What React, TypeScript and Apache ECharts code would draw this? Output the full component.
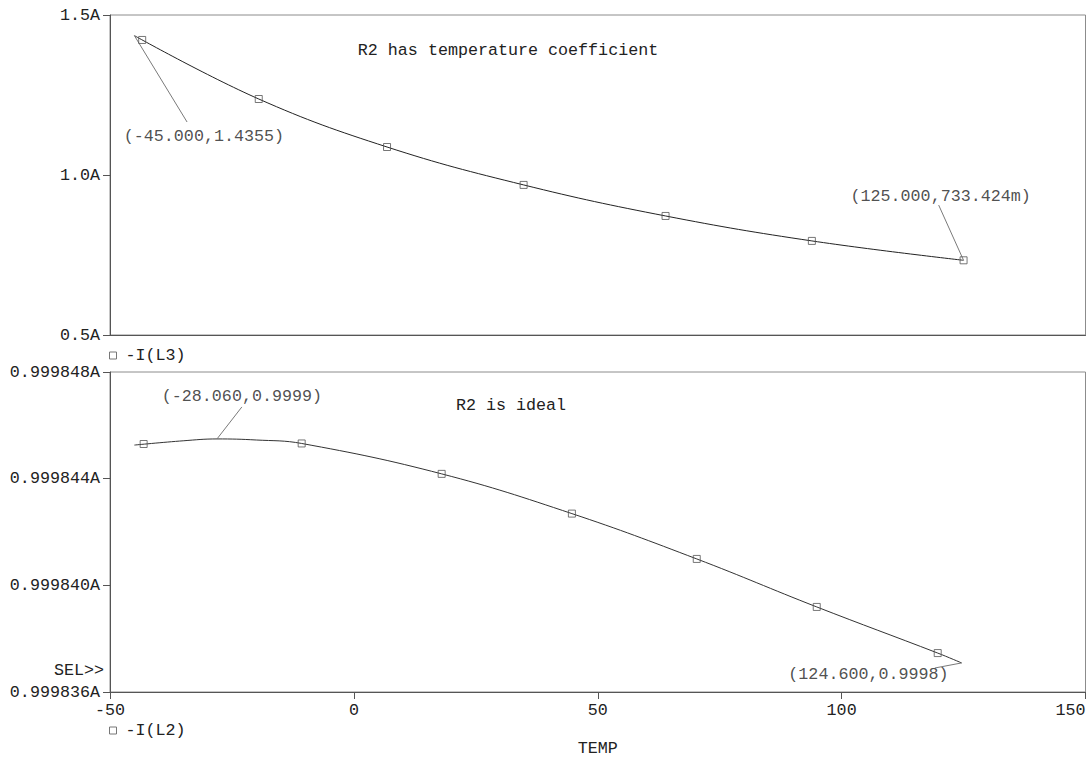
import React, { useEffect, useRef } from "react";
import * as echarts from "echarts";

// ---------- data ----------
const tempTicks = [-50, 0, 50, 100, 150];
const topAmpTicks = [0.5, 1.0, 1.5];
const bottomAmpTicks = [0.999836, 0.99984, 0.999844, 0.999848];

// -I(L3): R2 has temperature coefficient
const topCurveTemp = [-45, -19.5, 6.8, 34.8, 63.9, 93.9, 125];
const topCurveAmps = [1.4355, 1.2375, 1.0875, 0.969, 0.872, 0.794, 0.733424];
const topMarkerTemp = [-43.4, -19.5, 6.8, 34.8, 63.9, 93.9, 125];
const topMarkerAmps = [1.422, 1.2375, 1.0875, 0.969, 0.872, 0.794, 0.733424];

// -I(L2): R2 is ideal
const botCurveTemp = [-45, -35, -28.06, -20, -10.7, 18, 44.7, 70.3, 94.9, 119.7, 124.6];
const botCurveAmps = [
  0.99984526, 0.99984542, 0.99984549, 0.99984545, 0.99984532, 0.99984418,
  0.99984269, 0.99984099, 0.99983919, 0.99983746, 0.99983709,
];
const botMarkerTemp = [-43.1, -10.7, 18, 44.7, 70.3, 94.9, 119.7];
const botMarkerAmps = [
  0.9998453, 0.99984532, 0.99984418, 0.99984269, 0.99984099, 0.99983919, 0.99983746,
];

// annotations: [label, anchorTemp, anchorAmp, leaderEndTemp, leaderEndAmp, textTemp, textAmp]
const topNotes: [string, number, number, number, number, number, number][] = [
  ["(-45.000,1.4355)", -45, 1.4355, -34.2, 1.1656, -30.75, 1.119],
  ["(125.000,733.424m)", 125, 0.733424, 119.9, 0.906, 120.3, 0.934],
];
const botNotes: [string, number, number, number, number, number, number][] = [
  ["(-28.060,0.9999)", -28.06, 0.99984549, -22.96, 0.99984669, -22.96, 0.9998471],
  ["(124.600,0.9998)", 124.6, 0.99983709, 119.1, 0.9998369, 105.5, 0.99983664],
];

const FONT = "'Liberation Mono', 'DejaVu Sans Mono', monospace";
const FS = 16.7;
const TXT = "#222";
const AXIS = "#555";
const BORDER = "#8c8c8c";

export default function App() {
  const ref = useRef<HTMLDivElement>(null);
  useEffect(() => {
    document.body.style.margin = "0";
    const chart = echarts.init(ref.current!, undefined, { renderer: "svg" });

    const zip = (xs: number[], ys: number[]) => xs.map((x, i) => [x, ys[i]]);

    const noteSeries = (notes: typeof topNotes, idx: number) => {
      const s: any[] = [];
      notes.forEach((n) => {
        s.push({
          type: "line",
          xAxisIndex: idx,
          yAxisIndex: idx,
          data: [
            [n[1], n[2]],
            [n[3], n[4]],
          ],
          symbol: "none",
          silent: true,
          lineStyle: { color: "#7a7a7a", width: 1 },
          z: 3,
        });
      });
      s.push({
        type: "scatter",
        xAxisIndex: idx,
        yAxisIndex: idx,
        symbolSize: 1,
        silent: true,
        itemStyle: { color: "rgba(0,0,0,0)" },
        label: {
          show: true,
          position: "inside",
          formatter: "{b}",
          color: TXT,
          fontFamily: FONT,
          fontSize: FS,
        },
        data: notes.map((n) => ({ name: n[0], value: [n[5], n[6]] })),
        z: 4,
      });
      return s;
    };

    const xBase = (idx: number) => ({
      gridIndex: idx,
      type: "value",
      min: tempTicks[0],
      max: tempTicks[tempTicks.length - 1],
      interval: tempTicks[1] - tempTicks[0],
      splitLine: { show: false },
      axisLine: { show: true, onZero: false, lineStyle: { color: AXIS, width: 1 } },
    });

    const yBase = (idx: number, ticks: number[], digits: number) => ({
      gridIndex: idx,
      type: "value",
      min: ticks[0],
      max: ticks[ticks.length - 1],
      interval: ticks[1] - ticks[0],
      splitLine: { show: false },
      axisLine: { show: true, onZero: false, lineStyle: { color: AXIS, width: 1 } },
      axisTick: { show: true, length: 7, lineStyle: { color: AXIS } },
      axisLabel: {
        margin: 10,
        color: TXT,
        fontFamily: FONT,
        fontSize: FS,
        formatter: (v: number) => v.toFixed(digits) + "A",
      },
    });

    const markerStyle = {
      color: "rgba(0,0,0,0)",
      borderColor: "#555",
      borderWidth: 1,
    };

    const legendBase = (name: string, top: number) => ({
      data: [name],
      left: 109,
      top,
      padding: 0,
      icon: "rect",
      itemWidth: 7,
      itemHeight: 7,
      itemGap: 8,
      selectedMode: false,
      itemStyle: { color: "rgba(0,0,0,0)", borderColor: "#777", borderWidth: 1 },
      textStyle: { color: TXT, fontFamily: FONT, fontSize: FS, padding: [0, 0, 0, 4] },
    });

    const gridBase = {
      left: 110,
      width: 975.5,
      height: 320,
      show: true,
      borderColor: BORDER,
      borderWidth: 1,
      backgroundColor: "#fff",
      containLabel: false,
      outerBoundsMode: "none",
    };

    chart.setOption({
      animation: false,
      backgroundColor: "#fff",
      textStyle: { fontFamily: FONT },
      grid: [
        { ...gridBase, top: 15 },
        { ...gridBase, top: 372 },
      ],
      legend: [legendBase("-I(L3)", 347), legendBase("-I(L2)", 722)],
      xAxis: [
        { ...xBase(0), axisTick: { show: false }, axisLabel: { show: false } },
        {
          ...xBase(1),
          axisTick: { show: true, length: 7, lineStyle: { color: AXIS } },
          axisLabel: {
            margin: 10,
            color: TXT,
            fontFamily: FONT,
            fontSize: FS,
            alignMaxLabel: "right",
          },
          name: "TEMP",
          nameLocation: "middle",
          nameGap: 48,
          nameTextStyle: { color: TXT, fontFamily: FONT, fontSize: FS },
        },
      ],
      yAxis: [yBase(0, topAmpTicks, 1), yBase(1, bottomAmpTicks, 6)],
      series: [
        {
          name: "-I(L3)",
          type: "line",
          xAxisIndex: 0,
          yAxisIndex: 0,
          data: zip(topCurveTemp, topCurveAmps),
          smooth: 0.4,
          symbol: "none",
          silent: true,
          lineStyle: { color: "#222", width: 1 },
          itemStyle: markerStyle,
        },
        {
          name: "-I(L3)",
          type: "scatter",
          xAxisIndex: 0,
          yAxisIndex: 0,
          data: zip(topMarkerTemp, topMarkerAmps),
          symbol: "rect",
          symbolSize: 7,
          silent: true,
          itemStyle: markerStyle,
          z: 5,
        },
        {
          name: "-I(L2)",
          type: "line",
          xAxisIndex: 1,
          yAxisIndex: 1,
          data: zip(botCurveTemp, botCurveAmps),
          smooth: 0.4,
          symbol: "none",
          silent: true,
          lineStyle: { color: "#333", width: 1 },
          itemStyle: markerStyle,
        },
        {
          name: "-I(L2)",
          type: "scatter",
          xAxisIndex: 1,
          yAxisIndex: 1,
          data: zip(botMarkerTemp, botMarkerAmps),
          symbol: "rect",
          symbolSize: 7,
          silent: true,
          itemStyle: markerStyle,
          z: 5,
        },
        ...noteSeries(topNotes, 0),
        ...noteSeries(botNotes, 1),
      ],
      graphic: [
        {
          type: "text",
          x: 508,
          y: 50,
          style: { text: "R2 has temperature coefficient", fill: TXT, font: `${FS}px ${FONT}`, textAlign: "center", textVerticalAlign: "middle" },
        },
        {
          type: "text",
          x: 511,
          y: 405,
          style: { text: "R2 is ideal", fill: TXT, font: `${FS}px ${FONT}`, textAlign: "center", textVerticalAlign: "middle" },
        },
        {
          type: "text",
          x: 104,
          y: 670,
          style: { text: "SEL>>", fill: TXT, font: `${FS}px ${FONT}`, textAlign: "right", textVerticalAlign: "middle" },
        },
      ],
    });
    return () => chart.dispose();
  }, []);
  return <div ref={ref} style={{ width: 1089, height: 757 }} />;
}
